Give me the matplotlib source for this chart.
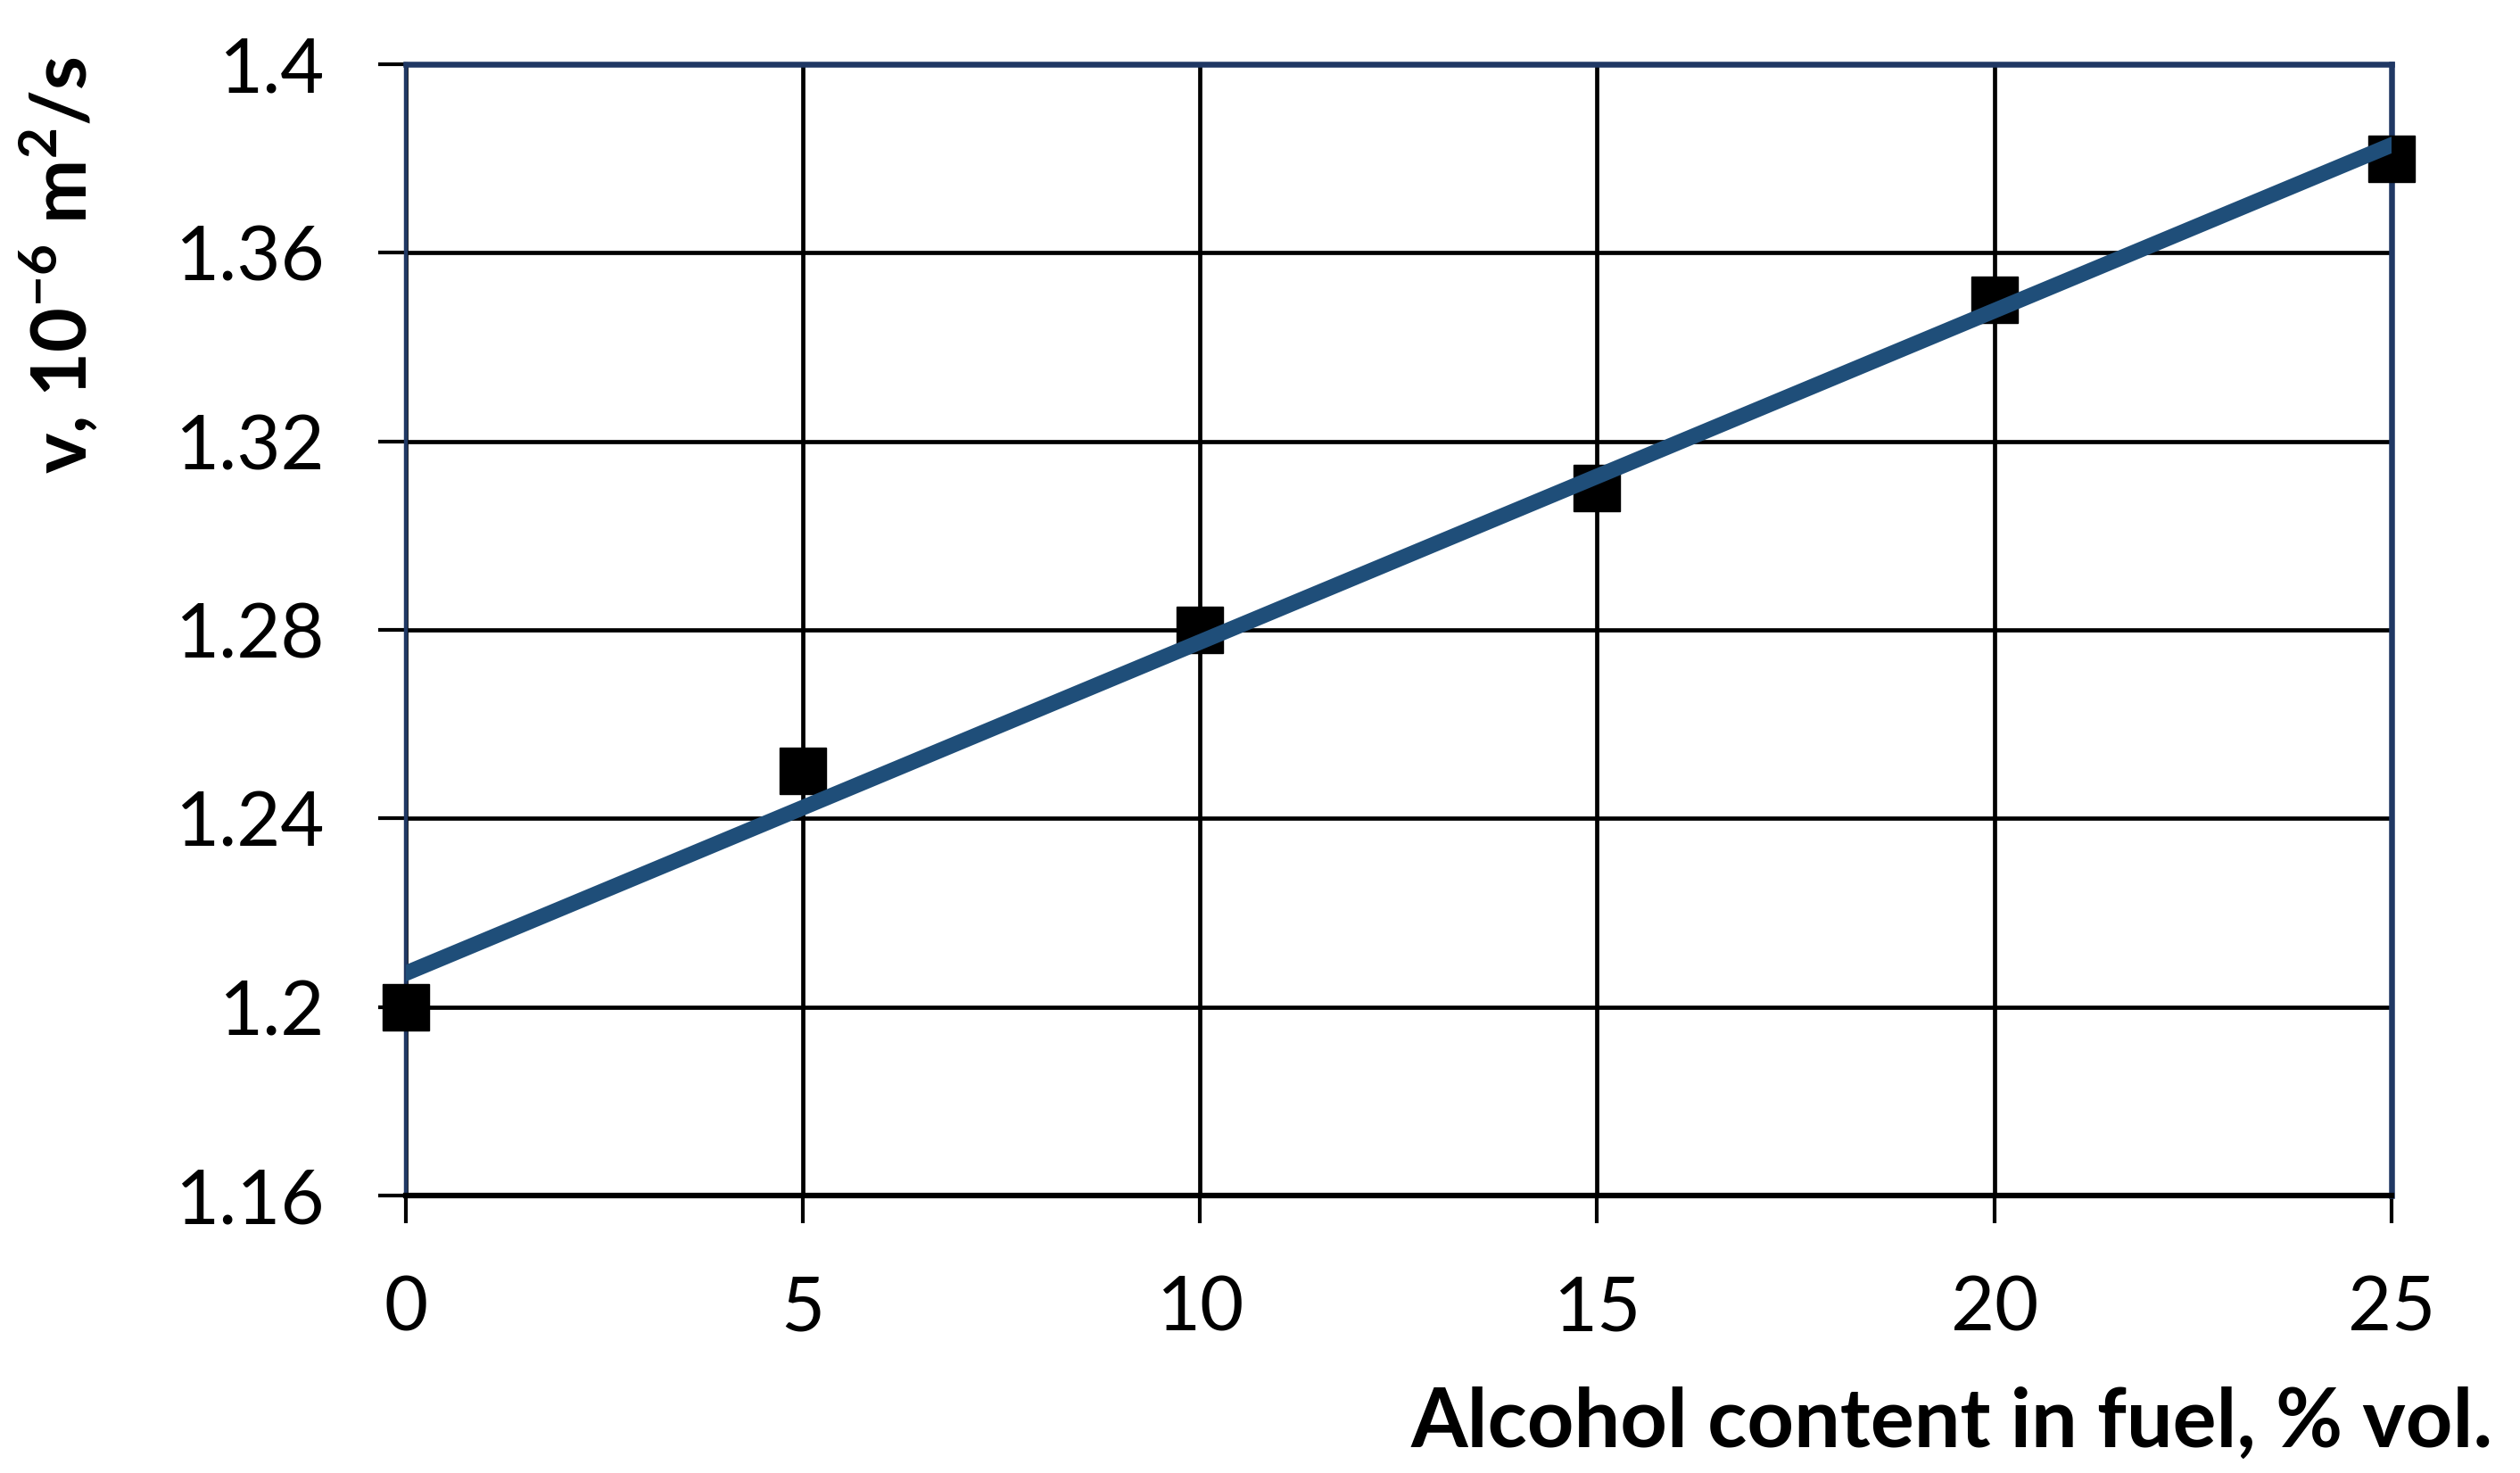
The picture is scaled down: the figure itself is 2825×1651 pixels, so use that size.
import numpy as np
import matplotlib
matplotlib.use("Agg")
import matplotlib.pyplot as plt

# data
alcohol_pct = [0, 5, 10, 15, 20, 25]
viscosity = [1.20, 1.25, 1.28, 1.31, 1.35, 1.38]

x_ticks = [0, 5, 10, 15, 20, 25]
y_ticks = [1.16, 1.20, 1.24, 1.28, 1.32, 1.36, 1.40]
y_tick_labels = ["1.16", "1.2", "1.24", "1.28", "1.32", "1.36", "1.4"]

NAVY = "#203864"
TREND = "#1F4E79"

plt.rcParams["font.family"] = ["Lato", "DejaVu Sans"]
plt.rcParams["mathtext.fontset"] = "custom"
plt.rcParams["mathtext.rm"] = "Lato"
plt.rcParams["mathtext.bf"] = "Lato:bold"

fig = plt.figure(figsize=(28.25, 16.51), dpi=100)
ax = fig.add_axes([0.161, 0.1884, 0.788, 0.768])

# linear trendline (least squares on the points)
slope, intercept = np.polyfit(alcohol_pct, viscosity, 1)
xx = np.array([-1, 26])
ax.plot(xx, slope * xx + intercept, color=TREND, lw=12.5,
        solid_capstyle="butt", zorder=4)

ax.plot(alcohol_pct, viscosity, linestyle="none", marker="s", ms=38,
        mfc="black", mec="black", mew=1, clip_on=False, zorder=3)

ax.set_xlim(0, 25)
ax.set_ylim(1.16, 1.40)
ax.set_xticks(x_ticks)
ax.set_xticklabels([str(v) for v in x_ticks])
ax.set_yticks(y_ticks)
ax.set_yticklabels(y_tick_labels)

ax.grid(True, color="black", lw=3.4)
ax.tick_params(axis="both", direction="out", length=22, width=3,
               color="black", labelsize=61)
ax.tick_params(axis="x", pad=42)
ax.tick_params(axis="y", pad=44)

for side in ["top", "right"]:
    ax.spines[side].set_color(NAVY)
    ax.spines[side].set_linewidth(4.7)
ax.spines["left"].set_color(NAVY)
ax.spines["left"].set_linewidth(3.2)
ax.spines["bottom"].set_color("black")
ax.spines["bottom"].set_linewidth(4.5)

fig.text(2795 / 2825, 1 - 1622 / 1651, "Alcohol content in fuel, % vol.",
         ha="right", va="baseline", fontsize=66, fontweight="bold")
fig.text(65 / 2825, 1 - 63 / 1651,
         r"v, 10$^{\mathbf{-6}}$ m$^{\mathbf{2}}$/s",
         rotation=90, ha="center", va="top", fontsize=62, fontweight="bold")

fig.savefig("out.png", dpi=100)
